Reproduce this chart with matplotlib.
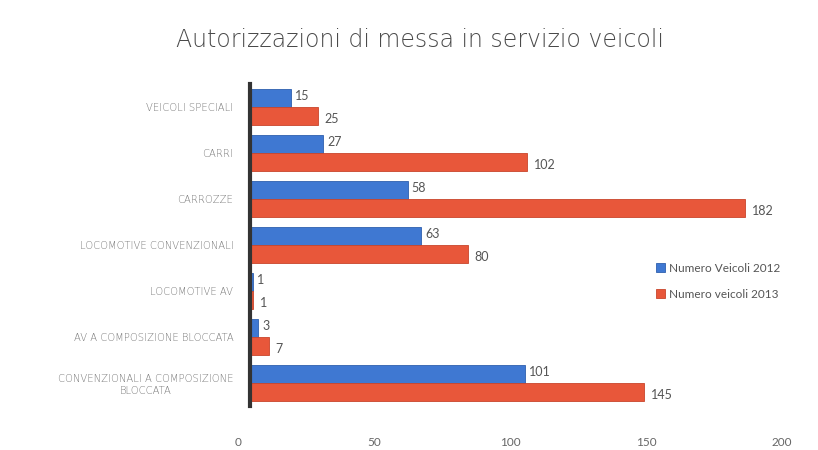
import matplotlib
matplotlib.use("Agg")
import matplotlib.pyplot as plt
import matplotlib.transforms as mtransforms
import numpy as np

categories = ["VEICOLI SPECIALI", "CARRI", "CARROZZE", "LOCOMOTIVE CONVENZIONALI",
              "LOCOMOTIVE AV", "AV A COMPOSIZIONE BLOCCATA",
              "CONVENZIONALI A COMPOSIZIONE\nBLOCCATA"]
v2012 = [15, 27, 58, 63, 1, 3, 101]
v2013 = [25, 102, 182, 80, 1, 7, 145]
series_names = ["Numero Veicoli 2012", "Numero veicoli 2013"]
xticks = [0, 50, 100, 150, 200]

blue = "#3f78d2"
red = "#e8573a"

plt.rcParams['font.family'] = ['Lato', 'DejaVu Sans']
fig = plt.figure(figsize=(8.18, 4.5), dpi=100)
ax = fig.add_axes([250/818, 1-406/450, (794-250)/818, (406-84)/450])

y = np.arange(len(categories))
h = 0.38
b1 = ax.barh(y - h/2 - 0.01, v2012, height=h, color=blue, edgecolor="#2e5fae", linewidth=0.6, label=series_names[0])
b2 = ax.barh(y + h/2 + 0.01, v2013, height=h, color=red, edgecolor="#c9452b", linewidth=0.6, label=series_names[1])

for yi, v in zip(y, v2012):
    ax.text(v + 1.5, yi - h/2 - 0.05, str(v), va="center", ha="left", fontsize=9, color="#555555")
for yi, v in zip(y, v2013):
    ax.text(v + 2.5, yi + h/2 + 0.08, str(v), va="center", ha="left", fontsize=9, color="#555555")

ax.set_xlim(0, 200)
ax.set_ylim(len(categories) - 0.5, -0.5)
ax.set_yticks(y)
ax.set_yticklabels(categories, fontsize=7.2, color="#777777", multialignment="center",
                   family=["DejaVu Sans"], fontweight="light")
ax.set_xticks(xticks)
ax.set_xticklabels([str(t) for t in xticks], fontsize=8.5, color="#666666")
ax.tick_params(axis="both", length=0)
ax.tick_params(axis="x", pad=22)
ax.tick_params(axis="y", pad=12)
shift = mtransforms.ScaledTranslation(-12/100, 0, fig.dpi_scale_trans)
for lab in ax.get_xticklabels():
    lab.set_transform(lab.get_transform() + shift)
for s in ["top", "right", "bottom"]:
    ax.spines[s].set_visible(False)
ax.spines["left"].set_color("#333333")
ax.spines["left"].set_linewidth(3)

leg = fig.legend(handles=[b1, b2], labels=series_names, loc="upper left",
                 bbox_to_anchor=(645/818, 1-252/450), frameon=False, fontsize=8.5,
                 handlelength=0.8, handleheight=0.8, handletextpad=0.3, labelspacing=1.3,
                 labelcolor="#555555")

fig.text(420/818, 1-40/450, "Autorizzazioni di messa in servizio veicoli",
         ha="center", va="center", fontsize=17, color="#4a4a4a", family=["DejaVu Sans"],
         fontweight="light")

fig.savefig("out.png", dpi=100, facecolor="white")
